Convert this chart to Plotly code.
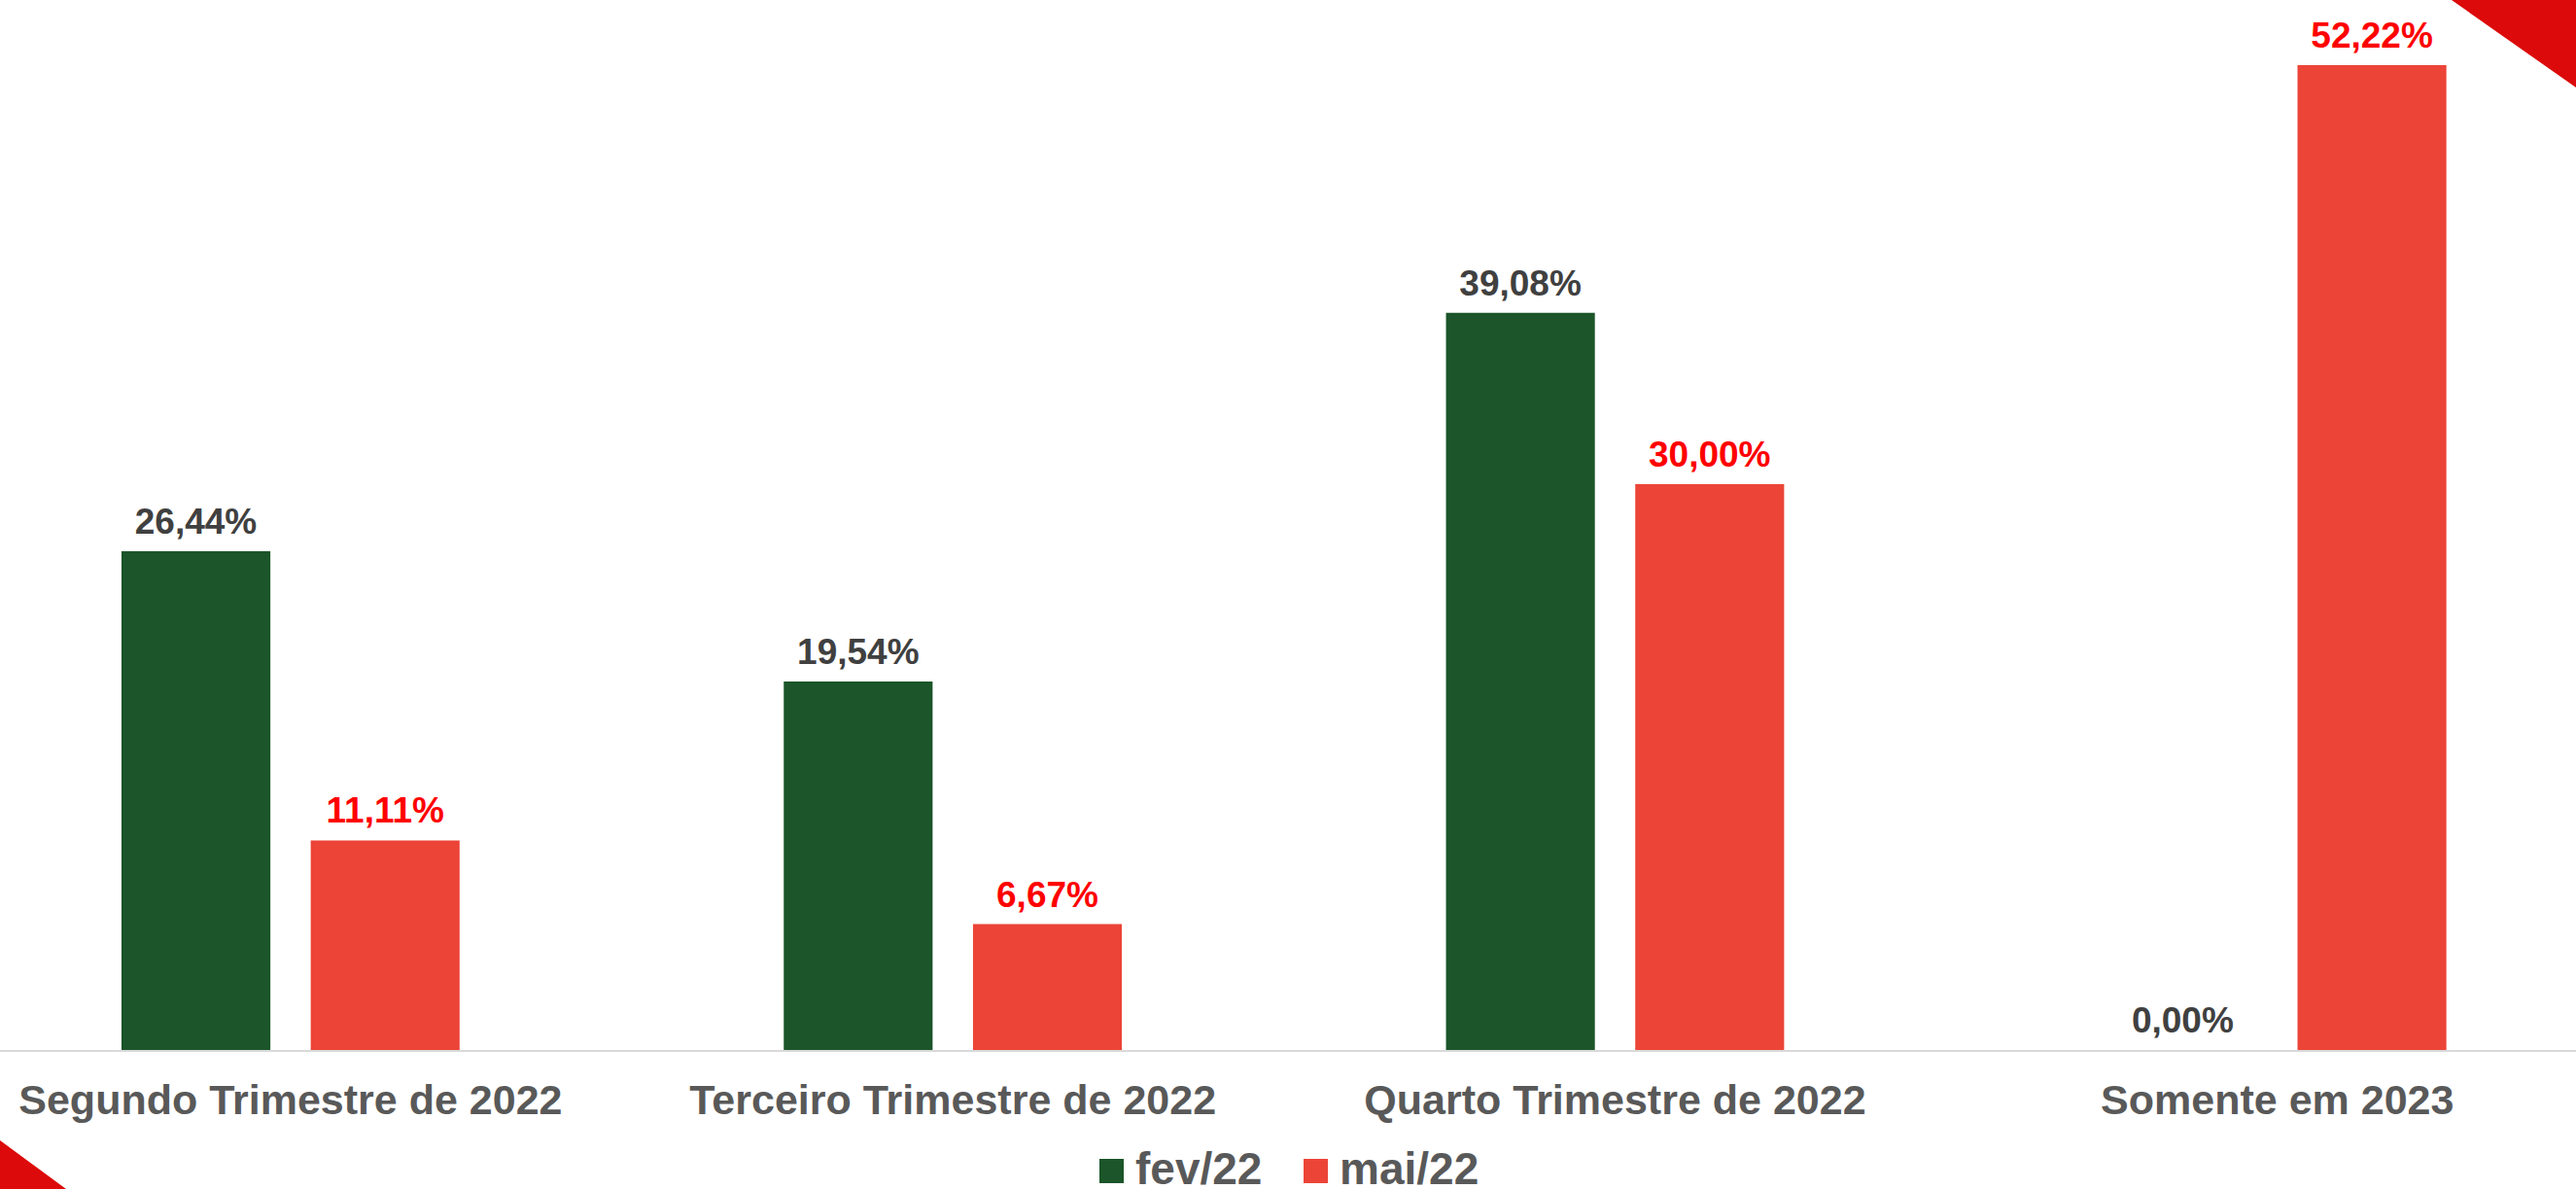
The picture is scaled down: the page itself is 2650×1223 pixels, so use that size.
import plotly.graph_objects as go

# chart data
categories = ["Segundo Trimestre de 2022", "Terceiro Trimestre de 2022",
              "Quarto Trimestre de 2022", "Somente em 2023"]
series_names = ["fev/22", "mai/22"]
fev22 = [26.44, 19.54, 39.08, 0.00]
mai22 = [11.11, 6.67, 30.00, 52.22]

bar_colors = ["#1B5529", "#EC4437"]
label_colors = ["#404040", "#FF0000"]
FONT = "Liberation Sans, Arial, sans-serif"
W, H = 2650, 1223
PLOT_BOTTOM = 1080  # pixel row of the category axis
BARGAP = 0.4285


def pct(v):
    return f"{v:.2f}".replace(".", ",") + "%"


fig = go.Figure()
for name, vals, col in zip(series_names, [fev22, mai22], bar_colors):
    fig.add_trace(go.Bar(
        x=categories, y=vals, name=name,
        marker=dict(color=col, line=dict(width=0)),
        offsetgroup=name, hoverinfo="skip", showlegend=False,
    ))

# data labels: grouped text-only scatter so the gap above each bar can be tuned
for name, vals, lcol in zip(series_names, [fev22, mai22], label_colors):
    fig.add_trace(go.Scatter(
        x=categories, y=vals, name=name,
        mode="markers+text",
        marker=dict(size=12.4, color="rgba(0,0,0,0)"),
        text=[pct(v) for v in vals],
        textposition="top center",
        textfont=dict(family=FONT, size=37, color=lcol, weight="bold"),
        offsetgroup=name, cliponaxis=False, hoverinfo="skip", showlegend=False,
    ))


def px_x(p):
    return p / W


def px_y(p):
    return (PLOT_BOTTOM - p) / PLOT_BOTTOM


# legend drawn by hand so the swatches can be as large as the original
shapes = []
annotations = []
swatch_left = [1131, 1341]
for name, col, x0 in zip(series_names, bar_colors, swatch_left):
    shapes.append(dict(type="rect", xref="paper", yref="paper",
                       x0=px_x(x0), x1=px_x(x0 + 25), y0=px_y(1217), y1=px_y(1192),
                       fillcolor=col, line=dict(width=0)))
    annotations.append(dict(text=name, xref="paper", yref="paper",
                            x=px_x(x0 + 35), y=px_y(1202), xanchor="left", yanchor="middle",
                            showarrow=False,
                            font=dict(family=FONT, size=46, color="#595959", weight="bold")))

# red corner triangles
shapes.append(dict(type="path", xref="paper", yref="paper",
                   path=f"M {px_x(2522)} {px_y(0)} L {px_x(2650)} {px_y(0)} L {px_x(2650)} {px_y(90)} Z",
                   fillcolor="#DC0A0A", line=dict(width=0), layer="above"))
shapes.append(dict(type="path", xref="paper", yref="paper",
                   path=f"M {px_x(0)} {px_y(1173)} L {px_x(0)} {px_y(1223)} L {px_x(68)} {px_y(1223)} Z",
                   fillcolor="#DC0A0A", line=dict(width=0), layer="above"))

fig.update_layout(
    width=W, height=H,
    margin=dict(l=0, r=0, t=0, b=H - PLOT_BOTTOM, pad=0),
    paper_bgcolor="white", plot_bgcolor="white",
    barmode="group", bargap=BARGAP, bargroupgap=0.2134,
    scattermode="group", scattergap=BARGAP,
    shapes=shapes, annotations=annotations,
    showlegend=False,
)
fig.update_xaxes(
    range=[-0.4387, 3.451],
    showline=True, linecolor="#D9D9D9", linewidth=2,
    showgrid=False, ticks="",
    tickfont=dict(family=FONT, size=43, color="#595959", weight="bold"),
    ticklabelstandoff=12,
)
fig.update_yaxes(range=[0, 55.67], visible=False, showgrid=False, zeroline=False)

fig.write_html("out.html", config={"displayModeBar": False},
               post_script="document.body.style.margin='0';document.body.style.overflow='hidden';")
